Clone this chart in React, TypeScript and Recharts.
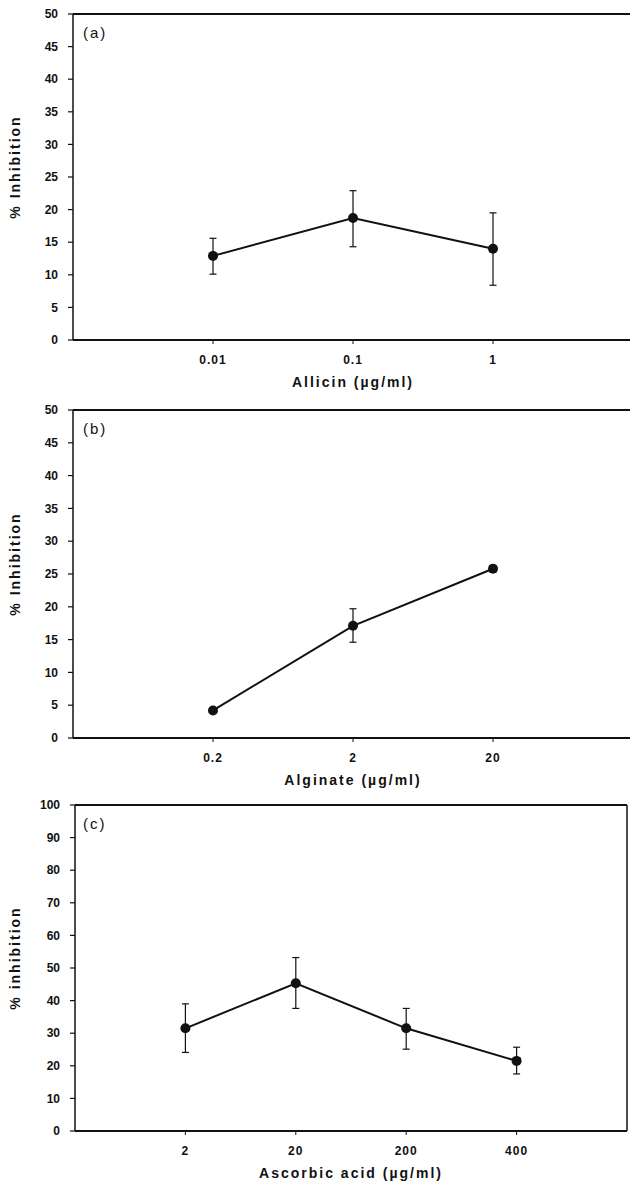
import React from "react";
import { LineChart, Line, XAxis, YAxis, ErrorBar, ReferenceLine, Label } from "recharts";

const FONT = '"Liberation Sans", Arial, Helvetica, sans-serif';
const INK = "#111";

// (a) allicin
const allicinDoses = ["0.01", "0.1", "1"];
const allicinMean = [12.9, 18.7, 14.0];
const allicinLow = [10.1, 14.3, 8.4];
const allicinHigh = [15.6, 22.9, 19.5];

// (b) alginate
const alginateDoses = ["0.2", "2", "20"];
const alginateMean = [4.2, 17.1, 25.8];
const alginateLow = [4.2, 14.6, 25.3];
const alginateHigh = [4.2, 19.7, 26.3];

// (c) ascorbic acid
const ascorbicDoses = ["2", "20", "200", "400"];
const ascorbicMean = [31.5, 45.3, 31.5, 21.5];
const ascorbicLow = [24.1, 37.6, 25.1, 17.5];
const ascorbicHigh = [39.0, 53.2, 37.6, 25.7];

const ticks50 = [0, 5, 10, 15, 20, 25, 30, 35, 40, 45, 50];
const ticks100 = [0, 10, 20, 30, 40, 50, 60, 70, 80, 90, 100];

type PanelProps = {
  top: number;
  tag: string;
  doses: string[];
  mean: number[];
  low: number[];
  high: number[];
  yTicks: number[];
  xMax: number;
  axisX: number;
  plotRight: number;
  plotHeight: number;
  xTitle: string;
  yTitle: string;
};

function Panel(p: PanelProps) {
  const data = p.doses.map((d, i) => ({
    x: i + 1,
    y: p.mean[i],
    err: [p.mean[i] - p.low[i], p.high[i] - p.mean[i]],
  }));
  const xTicks = p.doses.map((_, i) => i + 1);
  const yMax = p.yTicks[p.yTicks.length - 1];
  const W = 660;
  const H = 14 + p.plotHeight + 60;

  const yTitleFn = (props: any) => {
    const vb = props.viewBox || { y: 14, height: p.plotHeight };
    const cx = 15;
    const cy = vb.y + vb.height / 2 - 10;
    return (
      <text
        x={cx}
        y={cy}
        transform={`rotate(-90 ${cx} ${cy})`}
        textAnchor="middle"
        dominantBaseline="central"
        fontSize={14}
        fontWeight="bold"
        letterSpacing={2}
        fontFamily={FONT}
        fill={INK}
      >
        {p.yTitle}
      </text>
    );
  };

  const xTitleFn = (props: any) => {
    const vb = props.viewBox || { x: p.axisX, y: 14 + p.plotHeight, width: p.plotRight - p.axisX };
    const cx = vb.x + vb.width / 2;
    return (
      <text
        x={cx}
        y={vb.y + 47}
        textAnchor="middle"
        fontSize={14}
        fontWeight="bold"
        letterSpacing={2}
        fontFamily={FONT}
        fill={INK}
      >
        {p.xTitle}
      </text>
    );
  };

  return (
    <div style={{ position: "absolute", left: 0, top: p.top - 14, width: W, height: H }}>
      <LineChart
        width={W}
        height={H}
        data={data}
        margin={{ top: 14, right: W - p.plotRight, left: 0, bottom: 0 }}
      >
        <XAxis
          dataKey="x"
          type="number"
          domain={[0, p.xMax]}
          ticks={xTicks}
          interval={0}
          tickFormatter={(v: number) => p.doses[v - 1] ?? ""}
          height={60}
          tickSize={4}
          tickMargin={11}
          axisLine={{ stroke: INK, strokeWidth: 2 }}
          tickLine={{ stroke: INK, strokeWidth: 1 }}
          tick={{ fill: INK, fontSize: 12, fontWeight: "bold", fontFamily: FONT, letterSpacing: 1 }}
        >
          <Label content={xTitleFn} />
        </XAxis>
        <YAxis
          type="number"
          domain={[0, yMax]}
          ticks={p.yTicks}
          interval={0}
          width={p.axisX}
          tickSize={5}
          tickMargin={10}
          axisLine={{ stroke: INK, strokeWidth: 1.5 }}
          tickLine={{ stroke: INK, strokeWidth: 1.2 }}
          tick={{ fill: INK, fontSize: 12, fontWeight: "bold", fontFamily: FONT }}
        >
          <Label content={yTitleFn} />
        </YAxis>
        <ReferenceLine y={yMax} stroke={INK} strokeWidth={2} />
        <ReferenceLine x={p.xMax} stroke={INK} strokeWidth={1.5} />
        <Line
          dataKey="y"
          stroke={INK}
          strokeWidth={2}
          dot={{ r: 5, fill: INK, stroke: INK, strokeWidth: 0 }}
          activeDot={false}
          isAnimationActive={false}
        >
          <ErrorBar dataKey="err" direction="y" width={3.5} stroke={INK} strokeWidth={1.2} />
        </Line>
      </LineChart>
      <span
        style={{
          position: "absolute",
          left: 83,
          top: 25,
          fontFamily: FONT,
          fontSize: 15,
          lineHeight: "15px",
          letterSpacing: 2,
          color: INK,
        }}
      >
        {p.tag}
      </span>
    </div>
  );
}

export default function App() {
  return (
    <div
      style={{
        position: "absolute",
        left: 0,
        top: 0,
        width: 630,
        height: 1182,
        overflow: "hidden",
        background: "#fff",
      }}
    >
      <Panel
        top={14}
        tag="(a)"
        doses={allicinDoses}
        mean={allicinMean}
        low={allicinLow}
        high={allicinHigh}
        yTicks={ticks50}
        xMax={4}
        axisX={73}
        plotRight={633}
        plotHeight={326}
        xTitle="Allicin (µg/ml)"
        yTitle="% Inhibition"
      />
      <Panel
        top={410}
        tag="(b)"
        doses={alginateDoses}
        mean={alginateMean}
        low={alginateLow}
        high={alginateHigh}
        yTicks={ticks50}
        xMax={4}
        axisX={73}
        plotRight={633}
        plotHeight={328}
        xTitle="Alginate (µg/ml)"
        yTitle="% Inhibition"
      />
      <Panel
        top={805}
        tag="(c)"
        doses={ascorbicDoses}
        mean={ascorbicMean}
        low={ascorbicLow}
        high={ascorbicHigh}
        yTicks={ticks100}
        xMax={5}
        axisX={75}
        plotRight={627}
        plotHeight={326}
        xTitle="Ascorbic acid (µg/ml)"
        yTitle="% inhibition"
      />
    </div>
  );
}
